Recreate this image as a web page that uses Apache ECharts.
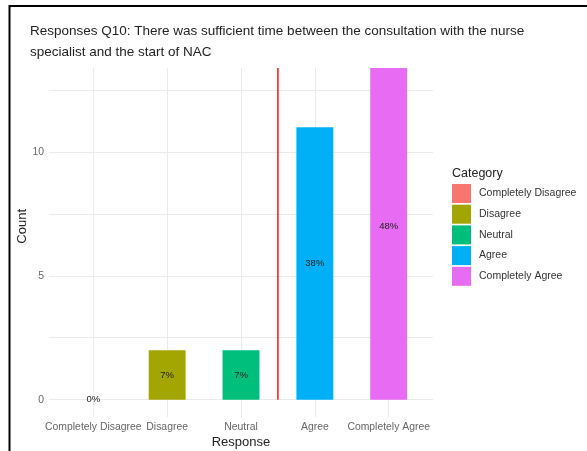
<!DOCTYPE html>
<html>
<head>
<meta charset="utf-8">
<script src="https://cdn.jsdelivr.net/npm/echarts@6/dist/echarts.min.js"></script>
<style>
  html, body { margin: 0; padding: 0; background: #fff; }
  #chart { width: 587px; height: 451px; }
</style>
</head>
<body>
<div id="chart"></div>
<script>
// ---- data ----
var categories = ['Completely Disagree', 'Disagree', 'Neutral', 'Agree', 'Completely Agree'];
var counts = [0, 2, 2, 11, 14];
var colors = ['#F8766D', '#A3A500', '#00BF7D', '#00B0F6', '#E76BF3'];
var yTickLabels = [0, 5, 10];
var yGridValues = [0, 2.5, 5, 7.5, 10, 12.5];
var dividerPosition = 3.5;   // between "Neutral" and "Agree" (1-based category positions)
var titleText = 'Responses Q10: There was sufficient time between the consultation with the nurse\nspecialist and the start of NAC';

var total = counts.reduce(function (a, b) { return a + b; }, 0);
var maxCount = Math.max.apply(null, counts);
var yMax = maxCount * 1.05;
var yMin = -maxCount * 0.05;

var FONT = '"Liberation Sans", Arial, sans-serif';

// panel geometry (ggplot-like: 0.6 category expansion each side)
var panelLeft = 49, panelRight = 433, panelTop = 35.6, panelBottom = 417;
var unit = (panelRight - panelLeft) / (categories.length + 0.2);
var W = 587, H = 451;

var series = categories.map(function (cat, i) {
  var d = categories.map(function (c, j) { return j === i ? counts[j] : '-'; });
  return {
    name: cat,
    type: 'bar',
    stack: 'all',
    barWidth: '50%',
    xAxisIndex: 1,
    yAxisIndex: 1,
    itemStyle: { color: colors[i] },
    label: {
      show: true,
      position: 'inside',
      color: '#222',
      fontSize: 9.5,
      fontFamily: FONT,
      formatter: function (p) { return Math.round(p.value / total * 100) + '%'; }
    },
    data: d
  };
});

series.push({
  name: 'divider',
  type: 'line',
  xAxisIndex: 0,
  yAxisIndex: 0,
  symbol: 'none',
  silent: true,
  lineStyle: { color: '#FF0000', width: 1.4 },
  z: 3,
  data: [[dividerPosition, 0], [dividerPosition, yMax]]
});

var chart = echarts.init(document.getElementById('chart'), null, { renderer: 'canvas' });
chart.setOption({
  animation: false,
  backgroundColor: '#fff',
  title: [{
    text: titleText,
    left: 30,
    top: 20.5,
    padding: 0,
    z: 110,
    textStyle: { fontFamily: FONT, fontSize: 13.5, fontWeight: 'normal', color: '#222', lineHeight: 21 }
  }, {
    text: 'Category',
    left: 452,
    top: 167,
    padding: 0,
    textStyle: { fontFamily: FONT, fontSize: 12.5, fontWeight: 'normal', color: '#222' }
  }],
  legend: {
    data: categories,
    orient: 'vertical',
    left: 452,
    top: 184,
    padding: 0,
    itemWidth: 19,
    itemHeight: 19,
    itemGap: 1.7,
    icon: 'rect',
    textStyle: { fontFamily: FONT, fontSize: 10.5, color: '#333', padding: [0, 0, 0, 3] }
  },
  grid: [
    { left: panelLeft, right: W - panelRight, top: panelTop, bottom: H - panelBottom, containLabel: false, outerBoundsMode: 'none' },
    { left: panelLeft + 0.1 * unit, right: W - panelRight + 0.1 * unit, top: panelTop, bottom: H - panelBottom, containLabel: false, outerBoundsMode: 'none' }
  ],
  xAxis: [{
    gridIndex: 0,
    type: 'value',
    min: 0.4,
    max: categories.length + 0.6,
    show: false
  }, {
    gridIndex: 1,
    type: 'category',
    data: categories,
    position: 'bottom',
    name: 'Response',
    nameLocation: 'middle',
    nameGap: 18.5,
    nameMoveOverlap: false,
    nameTextStyle: { fontFamily: FONT, fontSize: 13, color: '#222' },
    axisLine: { show: false, onZero: false },
    axisTick: { show: true, inside: true, alignWithLabel: true, length: panelBottom - panelTop, lineStyle: { color: '#EBEBEB', width: 1 } },
    axisLabel: { margin: 5, fontFamily: FONT, fontSize: 10.4, color: '#666', interval: 0 },
    splitLine: { show: false }
  }],
  yAxis: [{
    gridIndex: 0,
    type: 'value',
    min: yMin,
    max: yMax,
    name: 'Count',
    nameLocation: 'middle',
    nameGap: 20,
    nameMoveOverlap: false,
    nameTextStyle: { fontFamily: FONT, fontSize: 13, color: '#222' },
    axisLine: { show: false },
    axisTick: { show: false, customValues: yGridValues },
    axisLabel: { customValues: yTickLabels, margin: 5, fontFamily: FONT, fontSize: 10.4, color: '#666' },
    splitLine: { show: true, lineStyle: { color: '#EBEBEB', width: 1 } }
  }, {
    gridIndex: 1,
    type: 'value',
    min: yMin,
    max: yMax,
    show: false,
    splitLine: { show: false }
  }],
  graphic: [
    { type: 'rect', z: 100, shape: { x: 0, y: 0, width: W, height: 68 }, style: { fill: '#fff' } },
    { type: 'line', z: 105, shape: { x1: 9, y1: 6, x2: W, y2: 6 }, style: { stroke: '#000', lineWidth: 2 } },
    { type: 'line', z: 105, shape: { x1: 9.5, y1: 5, x2: 9.5, y2: H }, style: { stroke: '#000', lineWidth: 2 } }
  ],
  series: series
});
</script>
</body>
</html>
